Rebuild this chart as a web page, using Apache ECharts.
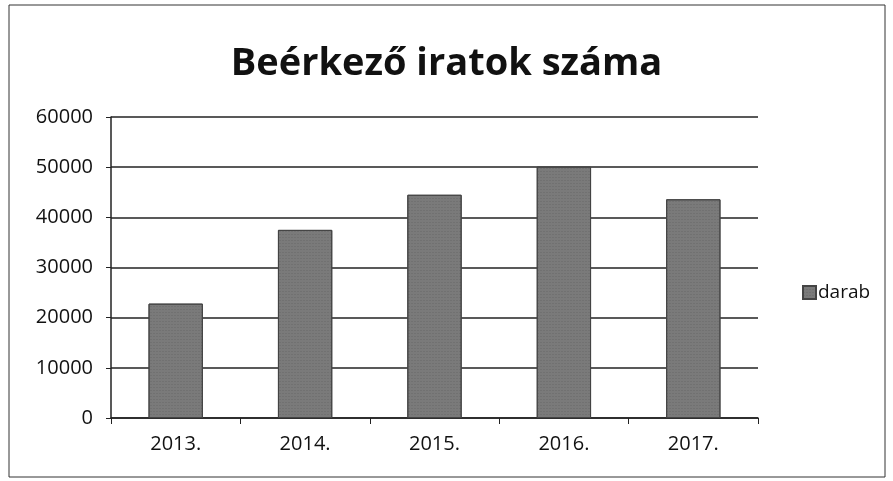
<!DOCTYPE html>
<html>
<head>
<meta charset="utf-8">
<script src="https://cdn.jsdelivr.net/npm/echarts@6/dist/echarts.min.js"></script>
<style>
  html, body { margin: 0; padding: 0; background: #fff; }
  #chart { width: 893px; height: 481px; }
</style>
</head>
<body>
<div id="chart"></div>
<script>
// adatok
const years = ['2013.', '2014.', '2015.', '2016.', '2017.']
const darab = [22800, 37500, 44500, 50100, 43600]
const yTicks = [0, 10000, 20000, 30000, 40000, 50000, 60000]

const chart = echarts.init(document.getElementById('chart'))
const font = '"Open Sans", "Noto Sans", sans-serif'

chart.setOption({
  animation: false,
  backgroundColor: '#fff',
  title: {
    text: 'Beérkező iratok száma',
    left: 'center',
    top: 40,
    textStyle: {
      fontFamily: font,
      fontWeight: 'bold',
      fontSize: 38,
      color: '#111',
    },
  },
  legend: {
    orient: 'vertical',
    left: 797,
    top: 278,
    itemWidth: 13,
    itemHeight: 13,
    itemGap: 4,
    icon: 'rect',
    textStyle: {
      fontFamily: font,
      fontSize: 19,
      color: '#111',
      padding: [0, 0, 0, -3],
    },
    data: ['darab'],
  },
  grid: {
    left: 111,
    right: 135,
    top: 117,
    bottom: 63,
  },
  xAxis: {
    type: 'category',
    data: years,
    axisLine: { lineStyle: { color: '#222', width: 1.5 } },
    axisTick: { show: true, length: 6, lineStyle: { color: '#222' } },
    axisLabel: {
      fontFamily: font,
      fontSize: 20,
      color: '#111',
      margin: 16,
    },
  },
  yAxis: {
    type: 'value',
    min: yTicks[0],
    max: yTicks[yTicks.length - 1],
    interval: 10000,
    axisLine: { show: true, lineStyle: { color: '#222', width: 1.5 } },
    axisTick: { show: true, length: 5, lineStyle: { color: '#222' } },
    splitLine: { lineStyle: { color: '#222', width: 1.5 } },
    axisLabel: {
      fontFamily: font,
      fontSize: 20,
      color: '#111',
      margin: 18,
      formatter: v => String(v),
    },
  },
  series: [{
    name: 'darab',
    type: 'bar',
    data: darab,
    barWidth: '42%',
    itemStyle: {
      color: '#7a7a7a',
      borderColor: '#444',
      borderWidth: 1,
      decal: {
        symbol: 'rect',
        symbolSize: 0.5,
        color: 'rgba(30,30,30,0.4)',
        dashArrayX: [2, 1],
        dashArrayY: [1, 2],
        rotation: 0,
      },
    },
  }],
  graphic: [{
    type: 'rect',
    shape: { x: 9, y: 5, width: 876, height: 472 },
    style: { fill: 'none', stroke: '#333', lineWidth: 1 },
    silent: true,
    z: -1,
  }],
})
</script>
</body>
</html>
